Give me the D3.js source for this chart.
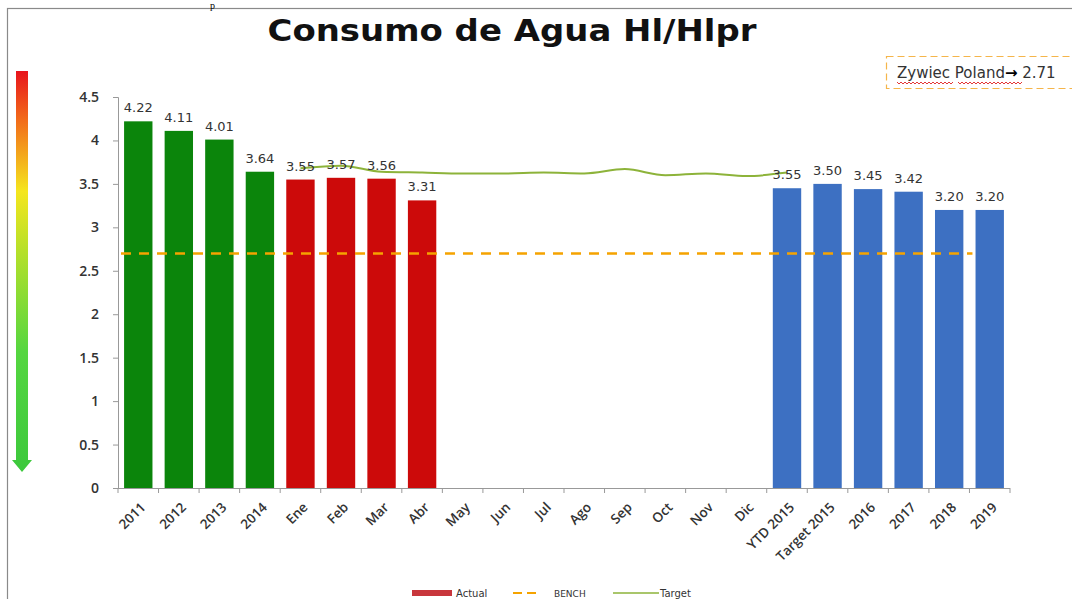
<!DOCTYPE html>
<html><head><meta charset="utf-8">
<script src="https://cdn.jsdelivr.net/npm/d3@7"></script>
<style>
html,body{margin:0;padding:0;background:#fff;}
svg{display:block;}
</style></head>
<body>
<svg id="c" width="1072" height="599"></svg>
<script>
const categories = ["2011","2012","2013","2014","Ene","Feb","Mar","Abr","May","Jun","Jul","Ago","Sep","Oct","Nov","Dic","YTD 2015","Target 2015","2016","2017","2018","2019"];
const actual = [4.22,4.11,4.01,3.64,3.55,3.57,3.56,3.31,null,null,null,null,null,null,null,null,3.45,3.50,3.44,3.41,3.20,3.20];
const barLabels = ["4.22","4.11","4.01","3.64","3.55","3.57","3.56","3.31","","","","","","","","","3.55","3.50","3.45","3.42","3.20","3.20"];
const barGroup = ["year","year","year","year","month","month","month","month","month","month","month","month","month","month","month","month","plan","plan","plan","plan","plan","plan"];
const target = [null,null,null,null,3.68,3.71,3.64,3.63,3.62,3.62,3.63,3.62,3.67,3.60,3.62,3.59,3.63,null,null,null,null,null];
const bench = [2.70,2.70,2.70,2.70,2.70,2.70,2.70,2.70,2.70,2.70,2.70,2.70,2.70,2.70,2.70,2.70,2.70,2.70,2.70,2.70,2.70,2.70];
const yTicks = [0,0.5,1,1.5,2,2.5,3,3.5,4,4.5];
const legendItems = ["Actual","BENCH","Target"];

const svg = d3.select("#c");
const x = d3.scaleBand().domain(categories).range([118,1010]).paddingInner(0.3).paddingOuter(0.15);
const y = d3.scaleLinear().domain([0,4.5]).range([488,97]);
const color = d3.scaleOrdinal().domain(["year","month","plan"]).range(["#0B850B","#CC0A0A","#3D70C2"]);

// frame
svg.append("rect").attr("x",7.5).attr("y",8.5).attr("width",1100).attr("height",620)
  .attr("fill","none").attr("stroke","#8a8a8a").attr("stroke-width",1.2);
svg.append("text").attr("x",210).attr("y",9).attr("font-family","Liberation Serif").attr("font-size",10).attr("fill","#000").text("p");

// title
svg.append("text").attr("x",512).attr("y",41).attr("text-anchor","middle")
  .attr("font-family","DejaVu Sans").attr("font-weight","bold").attr("font-size",31)
  .attr("textLength",489).attr("lengthAdjust","spacingAndGlyphs")
  .attr("fill","#111").text("Consumo de Agua Hl/Hlpr");

// gradient arrow
const defs = svg.append("defs");
const grad = defs.append("linearGradient").attr("id","ga").attr("x1",0).attr("y1",0).attr("x2",0).attr("y2",1);
[[0,"#e8141c"],[0.12,"#f26a1a"],[0.3,"#f5e61e"],[0.45,"#b5e02a"],[0.7,"#55d640"],[1,"#3cc83c"]].forEach(s=>grad.append("stop").attr("offset",s[0]).attr("stop-color",s[1]));
svg.append("path").attr("d","M16,71 L28,71 L28,460 L32,460 L22,472 L12,460 L16,460 Z").attr("fill","url(#ga)");

// axes
const yAxis = d3.axisLeft(y).tickValues(yTicks).tickSize(5).tickFormat(d=>String(d));
const gy = svg.append("g").attr("transform","translate(118,0)").call(yAxis);
gy.select(".domain").attr("stroke","#999");
gy.selectAll(".tick line").attr("stroke","#999");
gy.selectAll(".tick text").attr("x",-19).attr("font-family","Open Sans").attr("font-weight","600").attr("font-size",14).attr("fill","#333");

const step = x.step();
const bounds = d3.range(categories.length+1).map(i=>x.range()[0]+i*step);
svg.append("line").attr("x1",118).attr("x2",1010).attr("y1",488.5).attr("y2",488.5).attr("stroke","#999");
svg.selectAll(".xt").data(bounds).join("line").attr("x1",d=>d).attr("x2",d=>d).attr("y1",488).attr("y2",493).attr("stroke","#999");

svg.selectAll(".xl").data(categories).join("text")
  .attr("transform",d=>`translate(${x(d)+x.bandwidth()/2+1},${501}) rotate(-45)`)
  .attr("text-anchor","end").attr("dy","0.75em")
  .attr("font-family","Open Sans").attr("font-weight","600").attr("font-size",13.5).attr("fill","#333").text(d=>d);

// bars
const barData = categories.map((c,i)=>({c,v:actual[i],l:barLabels[i],g:barGroup[i]})).filter(d=>d.v!=null);
svg.selectAll(".bar").data(barData).join("rect")
  .attr("x",d=>x(d.c)).attr("width",x.bandwidth())
  .attr("y",d=>y(d.v)).attr("height",d=>y(0)-y(d.v)).attr("fill",d=>color(d.g));

// bench (spans from the left edge of each category slot)
svg.append("path").datum(categories.map((c,i)=>({i,v:bench[i]})))
  .attr("d",d3.line().x(d=>x.range()[0]+d.i*step+3).y(d=>y(d.v)))
  .attr("fill","none").attr("stroke","#F5A300").attr("stroke-width",2.5).attr("stroke-dasharray","10,8");

// target
svg.append("path").datum(categories.map((c,i)=>({c,v:target[i]})))
  .attr("d",d3.line().defined(d=>d.v!=null).x(d=>x(d.c)+x.bandwidth()/2).y(d=>y(d.v)).curve(d3.curveMonotoneX))
  .attr("fill","none").attr("stroke","#8DB33A").attr("stroke-width",2);

// bar labels
svg.selectAll(".bl").data(barData).join("text")
  .attr("x",d=>x(d.c)+x.bandwidth()/2).attr("y",d=>y(d.v)-9).attr("text-anchor","middle")
  .attr("font-family","DejaVu Sans").attr("font-size",13).attr("fill","#333").text(d=>d.l);

// annotation box
svg.append("rect").attr("x",886.5).attr("y",56.5).attr("width",200).attr("height",32)
  .attr("fill","#fff").attr("stroke","#F5B54A").attr("stroke-width",1.2).attr("stroke-dasharray","7,4");
const ann = svg.append("text").attr("x",897).attr("y",78).attr("font-family","DejaVu Sans").attr("font-size",15).attr("fill","#333");
ann.append("tspan").text("Zywiec Poland");
ann.append("tspan").attr("font-weight","bold").attr("fill","#000").text("\u2192");
ann.append("tspan").text(" 2.71");
function wavy(x0,x1,yy){let p=`M${x0},${yy}`;for(let xx=x0;xx<x1;xx+=4){p+=` l2,2 l2,-2`;}return p;}
svg.append("path").attr("d",wavy(897,952,82)+" "+wavy(958,1022,82)).attr("fill","none").attr("stroke","#e02020").attr("stroke-width",0.9);

// legend
const lg = svg.append("g").attr("font-family","DejaVu Sans").attr("font-size",10).attr("fill","#333");
lg.append("rect").attr("x",412).attr("y",590).attr("width",40).attr("height",6).attr("fill","#C8363C");
lg.append("text").attr("x",456).attr("y",597).text(legendItems[0]);
lg.append("line").attr("x1",513).attr("x2",540).attr("y1",593).attr("y2",593).attr("stroke","#F5A300").attr("stroke-width",2).attr("stroke-dasharray","9,5");
lg.append("text").attr("x",554).attr("y",597).attr("font-size",9).text(legendItems[1]);
lg.append("line").attr("x1",613).attr("x2",659).attr("y1",593).attr("y2",593).attr("stroke","#8DB33A").attr("stroke-width",1.5);
lg.append("text").attr("x",660).attr("y",597).text(legendItems[2]);
</script>
</body></html>
